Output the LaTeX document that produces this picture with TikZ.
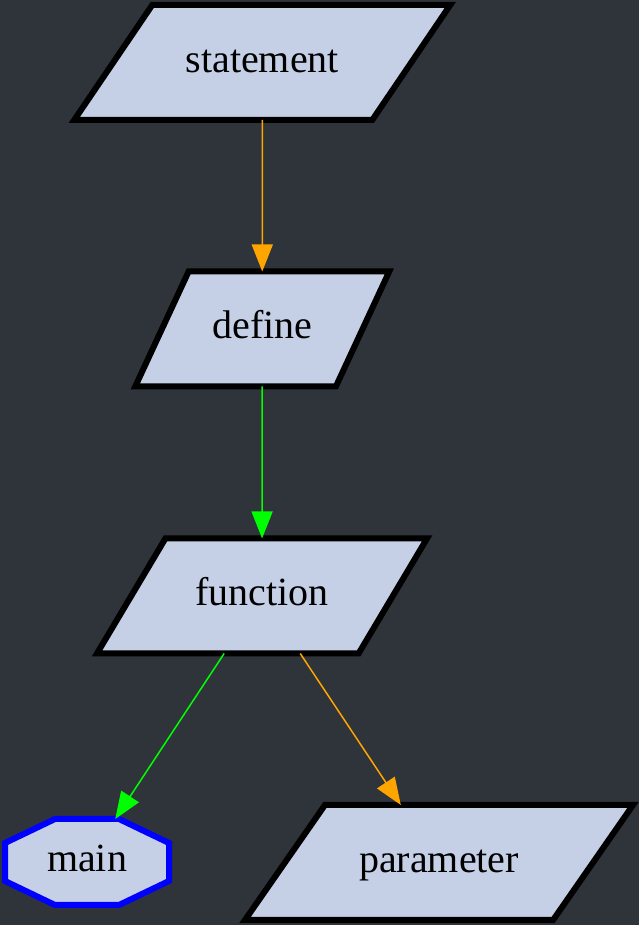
\documentclass[tikz,border=0pt]{standalone}
\usepackage{fontspec}
\setmainfont{Liberation Serif}
\usetikzlibrary{shapes.geometric,arrows.meta}
\definecolor{bgdark}{HTML}{2F333A}
\definecolor{boxfill}{HTML}{C5D0E6}
\definecolor{edgeorange}{HTML}{FFA500}
\definecolor{edgegreen}{HTML}{00FF00}
\begin{document}
\begin{tikzpicture}
    [x=1pt,y=1pt,
    label/.style={font=\fontsize{40}{48}\selectfont,text height=28pt,text depth=8pt,outer sep=0pt},
    para/.style={label,trapezium,trapezium stretches body,draw=black,line width=6pt,fill=boxfill,inner ysep=39.5pt},
    flow/.style={line width=1.5pt,-{Triangle[length=27pt,width=21pt]}}]
    %background
    \fill[bgdark] (0,0) rectangle (639,925);
    \useasboundingbox (0,0) rectangle (639,925);
    %parallelograms
    \node[para,trapezium left angle=55.85,trapezium right angle=124.15,minimum width=376pt] (statement) at (262.25,862.5) {statement};
    \node[para,trapezium left angle=65.1,trapezium right angle=114.9,minimum width=254pt] (define) at (262.25,596) {define};
    \node[para,trapezium left angle=59.25,trapezium right angle=120.75,minimum width=330pt] (function) at (262,329) {function};
    \node[para,trapezium left angle=55.2,trapezium right angle=124.8,minimum width=388pt] (parameter) at (439,62.5) {parameter};
    %octagon
    \coordinate (mainpos) at (87,63);
    \draw[blue,line width=6pt,fill=boxfill,shift={(mainpos)}]
    (-32,43)--(32,43)--(82,19)--(82,-19)--(32,-43)--(-32,-43)--(-82,-19)--(-82,19)--cycle;
    \node[label,minimum width=164pt,minimum height=86pt] (main) at (mainpos) {main};
    %edges
    \draw[flow,edgeorange] (statement) -- (define);
    \draw[flow,edgegreen] (define) -- (function);
    \draw[flow,edgegreen] (function) -- (main);
    \draw[flow,edgeorange] (function) -- (parameter);
\end{tikzpicture}
\end{document}
